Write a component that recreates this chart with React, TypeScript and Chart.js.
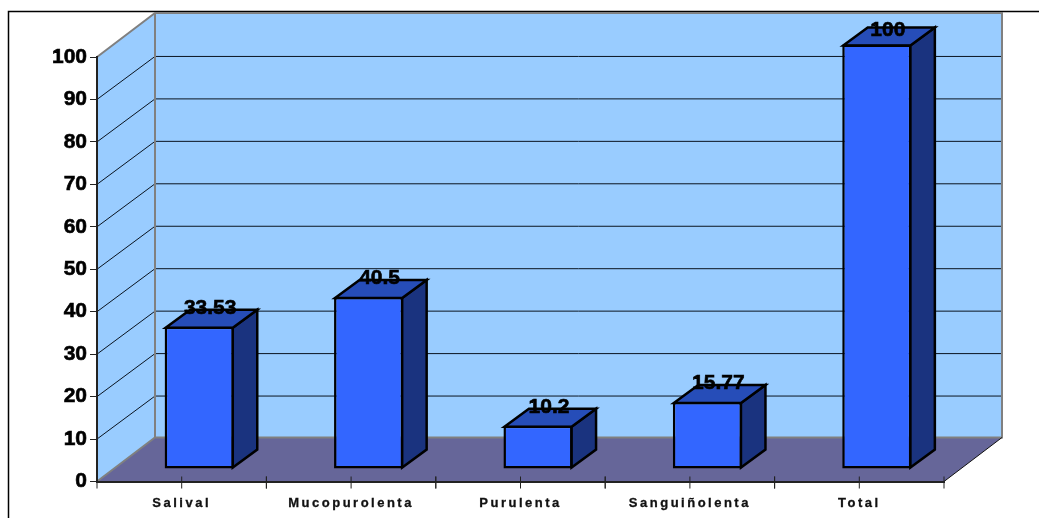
import React, { useEffect, useRef } from "react";
import { Chart, registerables } from "chart.js";

Chart.register(...registerables);

const categories = ["Salival", "Mucopurolenta", "Purulenta", "Sanguiñolenta", "Total"];
const percentages = [33.53, 40.5, 10.2, 15.77, 100];
const yTicks = [0, 10, 20, 30, 40, 50, 60, 70, 80, 90, 100];

const FONT = '"Liberation Sans", Arial, sans-serif';
const WALL_DEPTH = { x: 58, y: 44 };
const GRID_RISE = 43;
const BAR_SHIFT = { x: 17.5, y: 12.5 };
const BAR_DEPTH = { x: 24.5, y: 18 };
const LABEL_CEILING = 30;

const poly = (ctx: CanvasRenderingContext2D, pts: number[][], fill?: string, stroke?: string, lw = 1) => {
  ctx.beginPath();
  pts.forEach(([x, y], i) => (i ? ctx.lineTo(x, y) : ctx.moveTo(x, y)));
  if (fill) {
    ctx.closePath();
    ctx.fillStyle = fill;
    ctx.fill();
  }
  if (stroke) {
    ctx.strokeStyle = stroke;
    ctx.lineWidth = lw;
    ctx.stroke();
  }
};

// Room behind the bars: walls, floor, gridlines, outer frame and x-axis ticks.
const roomPlugin = {
  id: "room",
  beforeDraw(chart: any) {
    const { ctx, chartArea: a, scales } = chart;
    const y = scales.y;
    const dx = WALL_DEPTH.x;
    const dy = WALL_DEPTH.y;
    ctx.save();

    poly(ctx, [[8.5, 518], [8.5, 11.5], [1039, 11.5]], undefined, "#000", 1.5);

    const top = y.getPixelForValue(100);
    const zero = y.getPixelForValue(0);
    poly(ctx, [[a.left, top], [a.left + dx, top - dy], [a.left + dx, zero - dy], [a.left, zero]], "#99ccff");
    poly(ctx, [[a.left + dx, top - dy], [a.right + dx, top - dy], [a.right + dx, zero - dy], [a.left + dx, zero - dy]], "#99ccff");

    yTicks.slice(1, -1).forEach((v) => {
      const py = y.getPixelForValue(v);
      poly(ctx, [[a.left, py], [a.left + dx, py - GRID_RISE], [a.right + dx, py - GRID_RISE]], undefined, "#0a1420", 1);
    });

    poly(ctx, [[a.left, zero], [a.right, zero], [a.right + dx, zero - dy], [a.left + dx, zero - dy]], "#666699");
    poly(ctx, [[a.left, top], [a.left + dx, top - dy], [a.right + dx, top - dy], [a.right + dx, zero - dy], [a.left + dx, zero - dy], [a.left, zero]], undefined, "#808080", 2);
    poly(ctx, [[a.left + dx, top - dy], [a.left + dx, zero - dy]], undefined, "#808080", 2);
    poly(ctx, [[a.right, zero], [a.right + dx, zero - dy]], undefined, "#111", 1);

    const x = scales.x;
    categories.forEach((_, i) => {
      const c = x.getPixelForValue(i);
      const half = (a.right - a.left) / categories.length / 2;
      [c - half, c, c + half].forEach((px) => poly(ctx, [[px, zero - 5], [px, zero + 7]], undefined, "#222", 1));
    });
    ctx.restore();
  },
};

// Extrudes each bar: its side and top faces go first, then the front face
// is drawn by the library with the same offset into the room.
const extrudePlugin = {
  id: "extrude",
  beforeDatasetDraw(chart: any, args: any) {
    const { ctx } = chart;
    ctx.save();
    ctx.translate(BAR_SHIFT.x, -BAR_SHIFT.y);
    ctx.lineJoin = "miter";
    chart.getDatasetMeta(args.index).data.forEach((bar: any) => {
      const l = bar.x - bar.width / 2 + 1;
      const r = bar.x + bar.width / 2 - 1;
      const t = bar.y + 1;
      const b = bar.base - 1;
      const dx = BAR_DEPTH.x;
      const dy = BAR_DEPTH.y;
      poly(ctx, [[r, t], [r + dx, t - dy], [r + dx, b - dy], [r, b]], "#1a337f", "#000", 2.5);
      poly(ctx, [[l, t], [l + dx, t - dy], [r + dx, t - dy], [r, t]], "#264db8", "#000", 2.5);
    });
  },
  afterDatasetDraw(chart: any, args: any) {
    const { ctx } = chart;
    ctx.restore();
    ctx.save();
    ctx.font = `bold 21px ${FONT}`;
    ctx.fillStyle = "#000";
    ctx.strokeStyle = "#000";
    ctx.lineWidth = 0.6;
    ctx.textAlign = "center";
    ctx.textBaseline = "middle";
    chart.getDatasetMeta(args.index).data.forEach((bar: any, i: number) => {
      const text = String(percentages[i]);
      const tx = bar.x + BAR_SHIFT.x + 11;
      const ty = Math.max(LABEL_CEILING, bar.y - BAR_SHIFT.y - 18.5);
      ctx.fillText(text, tx, ty);
      ctx.strokeText(text, tx, ty);
    });
    ctx.restore();
  },
};

export default function App() {
  const ref = useRef<HTMLCanvasElement>(null);

  useEffect(() => {
    document.body.style.margin = "0";
    const chart = new Chart(ref.current as HTMLCanvasElement, {
      type: "bar",
      data: {
        labels: categories,
        datasets: [
          {
            data: percentages,
            backgroundColor: "#3366ff",
            borderColor: "#000",
            borderWidth: 2.5,
            borderSkipped: false,
            categoryPercentage: 1,
            barPercentage: 0.408,
            clip: false,
          } as any,
        ],
      },
      options: {
        responsive: false,
        animation: false,
        layout: { padding: { top: 57, right: 95, left: 0, bottom: 0 } },
        plugins: { legend: { display: false }, tooltip: { enabled: false } },
        scales: {
          x: {
            grid: { display: false },
            border: { display: true, color: "#222", width: 2 },
            ticks: {
              color: "#111",
              padding: 6,
              autoSkip: false,
              maxRotation: 0,
              textStrokeColor: "#111",
              textStrokeWidth: 0.3,
              font: { family: FONT, size: 13, weight: "bold" },
            },
            afterFit(scale: any) {
              scale.height = 36.5;
            },
            afterUpdate(scale: any) {
              // Category names are set with wide tracking.
              if (scale.__tracked) return;
              scale.__tracked = true;
              const drawLabels = scale.drawLabels.bind(scale);
              scale.drawLabels = (area: any) => {
                scale.ctx.save();
                scale.ctx.letterSpacing = "2.5px";
                drawLabels(area);
                scale.ctx.restore();
              };
            },
          } as any,
          y: {
            min: 0,
            max: 100,
            grid: { drawOnChartArea: false, drawTicks: true, tickLength: 7, color: "#222", lineWidth: 1 },
            border: { display: true, color: "#222", width: 2 },
            ticks: {
              stepSize: 10,
              color: "#000",
              padding: 3,
              textStrokeColor: "#000",
              textStrokeWidth: 0.6,
              font: { family: FONT, size: 21, weight: "bold" },
            },
            afterFit(scale: any) {
              scale.width = 97;
            },
          } as any,
        },
      },
      plugins: [roomPlugin, extrudePlugin],
    });
    return () => chart.destroy();
  }, []);

  return (
    <div style={{ width: 1039, height: 518 }}>
      <canvas ref={ref} width={1039} height={518} style={{ display: "block" }} />
    </div>
  );
}
